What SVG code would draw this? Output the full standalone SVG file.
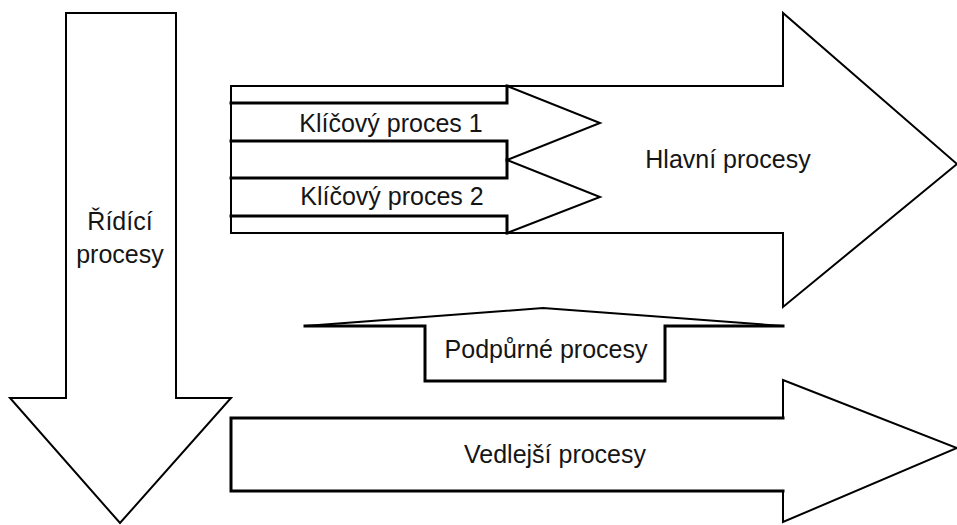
<svg xmlns="http://www.w3.org/2000/svg" width="957" height="525" viewBox="0 0 957 525">
  <style>
    .shape { fill: #ffffff; stroke: #000000; stroke-width: 2; stroke-linejoin: miter; }
    .thick { fill: none; stroke: #000000; stroke-width: 3; stroke-linejoin: miter; stroke-linecap: square; }
    .label { font-family: "Liberation Sans", Arial, sans-serif; font-size: 25px; fill: #151515; text-anchor: middle; }
  </style>
  <rect width="957" height="525" fill="#ffffff"/>

  <!-- Main processes: large right arrow -->
  <g id="hlavni">
    <polygon class="shape" points="231,86 783,86 783,13 957,164 783,307 783,233 231,233"/>
    <text class="label" x="728" y="168">Hlavní procesy</text>
  </g>

  <!-- Key process 1 -->
  <g id="klicovy1">
    <polygon class="shape" points="231,103 507,103 507,86 600,123 507,160 507,141 231,141" stroke-width="1.6"/>
    <polyline class="thick" points="231,103 507,103 507,86"/>
    <polyline class="thick" points="231,141 507,141 507,160"/>
    <text class="label" x="391" y="132">Klíčový proces 1</text>
  </g>

  <!-- Key process 2 -->
  <g id="klicovy2">
    <polygon class="shape" points="231,178 507,178 507,160 600,197 507,233 507,216 231,216" stroke-width="1.6"/>
    <polyline class="thick" points="231,178 507,178 507,160"/>
    <polyline class="thick" points="231,216 507,216 507,233"/>
    <text class="label" x="392" y="205">Klíčový proces 2</text>
  </g>

  <!-- Control processes: down arrow -->
  <g id="ridici">
    <polygon class="shape" points="66,13 176,13 176,398 231,398 120,523 10,398 66,398"/>
    <text class="label" x="120" y="230">Řídící</text>
    <text class="label" x="120" y="263">procesy</text>
  </g>

  <!-- Support processes: flat up arrow -->
  <g id="podpurne">
    <polygon class="shape" points="305,326 543,308 783,326 665,326 665,381 425,381 425,326" stroke-width="1.6"/>
    <polyline class="thick" points="305,326 425,326 425,381 665,381 665,326 783,326"/>
    <text class="label" x="546" y="358">Podpůrné procesy</text>
  </g>

  <!-- Secondary processes: lower right arrow -->
  <g id="vedlejsi">
    <polygon class="shape" points="231,418 783,418 783,380 957,448 783,522 783,491 231,491"/>
    <polyline class="thick" points="783,418 231,418 231,491 783,491"/>
    <text class="label" x="555" y="463">Vedlejší procesy</text>
  </g>

  <g id="connectors"></g>
</svg>
